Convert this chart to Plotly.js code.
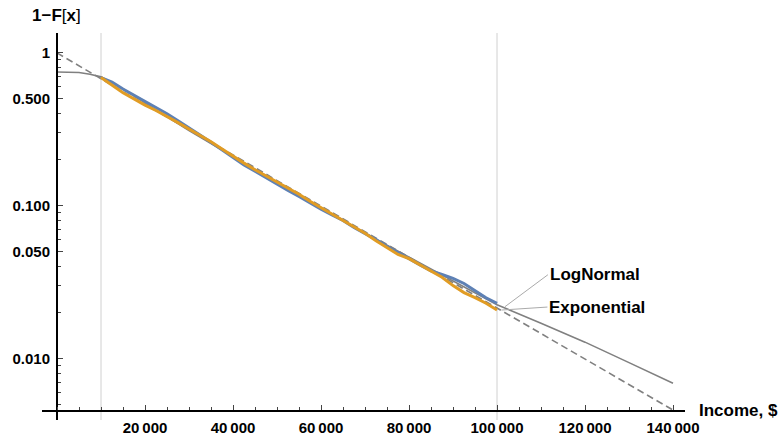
<!DOCTYPE html>
<html>
<head>
<meta charset="utf-8">
<script src="https://cdn.plot.ly/plotly-3.0.1.min.js"></script>
<style>html,body{margin:0;padding:0;background:#fff;}#chart{width:783px;height:437px;}</style>
</head>
<body>
<div id="chart"></div>
<script>
// ---- data ----
const incomeX = [10000,12500,15000,17500,20000,22500,25000,27500,30000,32500,35000,37500,40000,42500,45000,47500,50000,52500,55000,57500,60000,62500,65000,67500,70000,72500,75000,77500,80000,82500,85000,87500,90000,92500,95000,97500,100000];
const blueY = [0.69,0.645,0.58,0.53,0.485,0.443,0.40,0.36,0.325,0.29,0.26,0.232,0.205,0.185,0.168,0.152,0.139,0.126,0.115,0.104,0.095,0.087,0.080,0.072,0.066,0.060,0.054,0.049,0.045,0.041,0.0375,0.0355,0.0335,0.031,0.028,0.025,0.023];
const orangeY = [0.69,0.615,0.548,0.50,0.455,0.42,0.385,0.35,0.318,0.29,0.262,0.235,0.21,0.19,0.172,0.157,0.143,0.13,0.119,0.107,0.097,0.088,0.080,0.073,0.066,0.059,0.053,0.048,0.045,0.041,0.037,0.034,0.030,0.027,0.025,0.023,0.0208];
const logNormalX = [0,2500,5000,7500,10000,15000,20000,30000,40000,50000,60000,70000,80000,90000,100000,110000,120000,130000,140000];
const logNormalY = [0.75,0.75,0.745,0.725,0.697,0.58,0.47,0.31,0.21,0.142,0.097,0.066,0.046,0.032,0.0225,0.0170,0.0128,0.0094,0.0069];
const expX = [0,20000,40000,60000,80000,100000,120000,140000];
const expY = [1.0,0.46,0.215,0.099,0.046,0.0214,0.0099,0.0046];
const xTickVals = [20000,40000,60000,80000,100000,120000,140000];
const xTickText = ["20\u2009000","40\u2009000","60\u2009000","80\u2009000","100\u2009000","120\u2009000","140\u2009000"];
const yTickVals = [0.01,0.05,0.1,0.5,1];
const yTickText = ["0.010","0.050","0.100","0.500","1"];
const yMinorVals = [0.005,0.006,0.007,0.008,0.009,0.02,0.03,0.04,0.06,0.07,0.08,0.09,0.2,0.3,0.4,0.6,0.7,0.8,0.9];
const markerLines = [10000,100000];
const labels = {lognormal:"LogNormal", exponential:"Exponential", x:"Income, $", y:"<b>1\u2212F</b>[<b>x</b>]"};

// ---- chart ----
const gray = '#808080';
const traces = [
  {x: logNormalX, y: logNormalY, mode:'lines', line:{color:gray, width:1.6}, hoverinfo:'skip'},
  {x: expX, y: expY, mode:'lines', line:{color:gray, width:1.6, dash:'7px,4px'}, hoverinfo:'skip'},
  {x: incomeX, y: blueY, mode:'lines', line:{color:'#5E81B5', width:3}, hoverinfo:'skip'},
  {x: incomeX, y: orangeY, mode:'lines', line:{color:'#E19C24', width:3}, hoverinfo:'skip'}
];
const tickFont = {family:'Liberation Sans, Arial, sans-serif', size:15, weight:'bold', color:'#000'};
const labFont = {family:'Liberation Sans, Arial, sans-serif', size:17, weight:'bold', color:'#000'};
const iLN = logNormalX.indexOf(100000);
const iEX = expX.indexOf(100000);
const layout = {
  width:783, height:437,
  margin:{l:42, r:98, t:33, b:17},
  paper_bgcolor:'#fff', plot_bgcolor:'#fff',
  showlegend:false,
  xaxis:{
    type:'linear', range:[-3409,142727], anchor:'free', position:0.0233,
    showgrid:false, zeroline:false, showline:true, linecolor:'#000', linewidth:2,
    tickmode:'array', tickvals:xTickVals, ticktext:xTickText,
    ticks:'inside', ticklen:5, tickwidth:1, tickcolor:'#444', ticklabelstandoff:3,
    minor:{dtick:5000, tick0:0, ticks:'inside', ticklen:3, tickwidth:1, tickcolor:'#444', showgrid:false},
    tickfont:tickFont
  },
  yaxis:{
    type:'log', range:[Math.log10(0.00396), Math.log10(1.35)], anchor:'free', position:0.02333,
    showgrid:false, zeroline:false, showline:true, linecolor:'#000', linewidth:2,
    tickmode:'array', tickvals:yTickVals, ticktext:yTickText,
    ticks:'inside', ticklen:5, tickwidth:1, tickcolor:'#444', ticklabelstandoff:3,
    minor:{tickmode:'array', tickvals:yMinorVals, ticks:'inside', ticklen:3, tickwidth:1, tickcolor:'#444', showgrid:false},
    tickfont:tickFont
  },
  shapes: markerLines.map(v => ({type:'line', xref:'x', yref:'paper', x0:v, x1:v, y0:0, y1:1, layer:'below', line:{color:'#d0d0d0', width:1}})),
  annotations:[
    {xref:'paper', yref:'paper', x:-0.0187, y:1.0465, xanchor:'left', yanchor:'middle', showarrow:false, text:labels.y, font:{family:'Liberation Sans, Arial, sans-serif', size:17, color:'#000'}},
    {xref:'paper', yref:'paper', x:1.0187, y:0.0233, xanchor:'left', yanchor:'middle', showarrow:false, text:labels.x, font:labFont},
    {xref:'x', yref:'y', x:logNormalX[iLN]+1800, y:Math.log10(logNormalY[iLN]*0.97), text:labels.lognormal, font:labFont,
     showarrow:true, arrowhead:0, arrowwidth:1, arrowcolor:'#aaa', ax:43, ay:-32, xanchor:'left', yanchor:'middle', standoff:0, startstandoff:0},
    {xref:'x', yref:'y', x:expX[iEX]+1000, y:Math.log10(expY[iEX]*0.97), text:labels.exponential, font:labFont,
     showarrow:true, arrowhead:0, arrowwidth:1, arrowcolor:'#aaa', ax:46, ay:-3, xanchor:'left', yanchor:'middle', standoff:0, startstandoff:0}
  ]
};
Plotly.newPlot('chart', traces, layout, {staticPlot:true, displayModeBar:false});
</script>
</body>
</html>
